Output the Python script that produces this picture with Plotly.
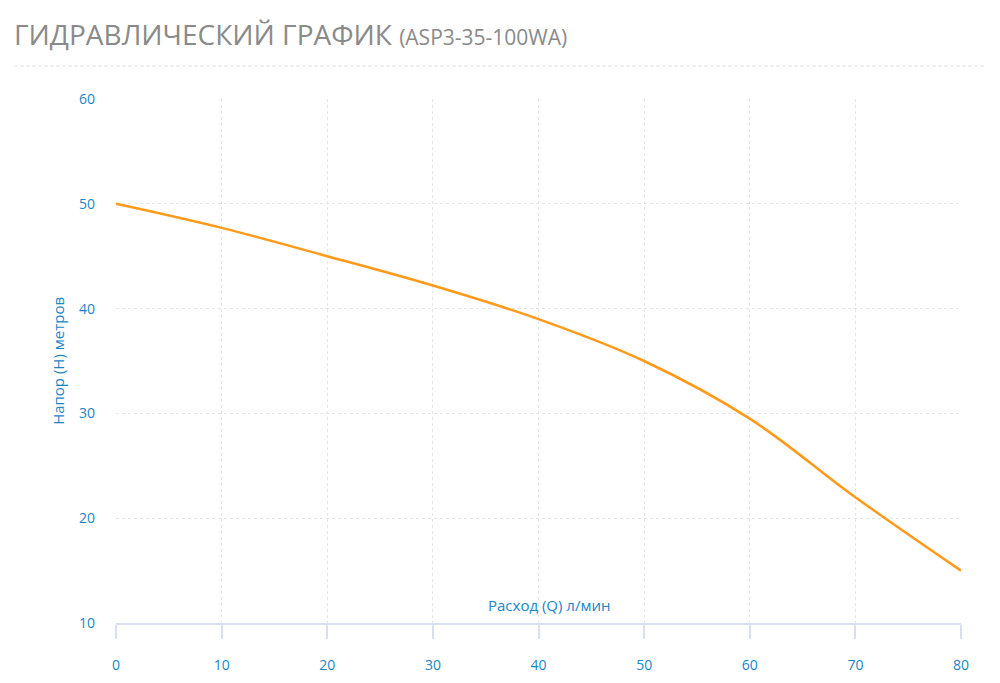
import plotly.graph_objects as go

flow = [0, 10, 20, 30, 40, 50, 60, 70, 80]
head = [50, 47.7, 45, 42.2, 39, 35, 29.5, 22, 15]
x_ticks = [0, 10, 20, 30, 40, 50, 60, 70, 80]
y_ticks = [10, 20, 30, 40, 50, 60]

BLUE = "#1a86c8"
FONT = "Open Sans"

fig = go.Figure()
fig.add_trace(go.Scatter(
    x=flow, y=head, mode="lines",
    line=dict(color="#ff9a1a", width=2.5, shape="spline", smoothing=1.0),
    showlegend=False, hoverinfo="x+y",
))

fig.add_annotation(
    x=-0.123, y=1.165, xref="paper", yref="paper", xanchor="left", yanchor="top",
    text="ГИДРАВЛИЧЕСКИЙ ГРАФИК <span style='font-size:21px'>(ASP3-35-100WA)</span>",
    showarrow=False, font=dict(family=FONT, size=28, color="#8a8a8a"),
)
fig.add_shape(type="line", xref="paper", yref="paper", x0=-0.12, x1=1.03, y0=1.063, y1=1.063,
              line=dict(color="#dddddd", width=1, dash="dot"))
fig.add_annotation(x=41, y=11.7, text="Расход (Q) л/мин", showarrow=False,
                   font=dict(family=FONT, size=15, color=BLUE))
fig.add_annotation(x=-0.083, y=0.5, xref="paper", yref="paper", textangle=-90,
                   text="Напор (Н) метров", showarrow=False,
                   font=dict(family=FONT, size=15, color=BLUE))

fig.update_layout(
    width=1000, height=683,
    margin=dict(l=108, r=47, t=91, b=68),
    plot_bgcolor="white", paper_bgcolor="white",
    xaxis=dict(
        range=[0, 80], tickvals=x_ticks, showgrid=True, gridcolor="#e6e6e6", griddash="dot",
        zeroline=False, showline=True, linecolor="#d8e0f0", linewidth=2,
        ticks="outside", ticklen=14, tickcolor="#d8e0f0", tickwidth=2,
        ticklabelstandoff=14, tickfont=dict(family=FONT, size=14, color=BLUE),
    ),
    yaxis=dict(
        range=[10, 60], tickvals=y_ticks, showgrid=True, gridcolor="#e6e6e6", griddash="dot",
        zeroline=False, showline=False, ticks="", ticklabelstandoff=20,
        tickfont=dict(family=FONT, size=14, color=BLUE),
    ),
)
fig.write_html("out.html")
